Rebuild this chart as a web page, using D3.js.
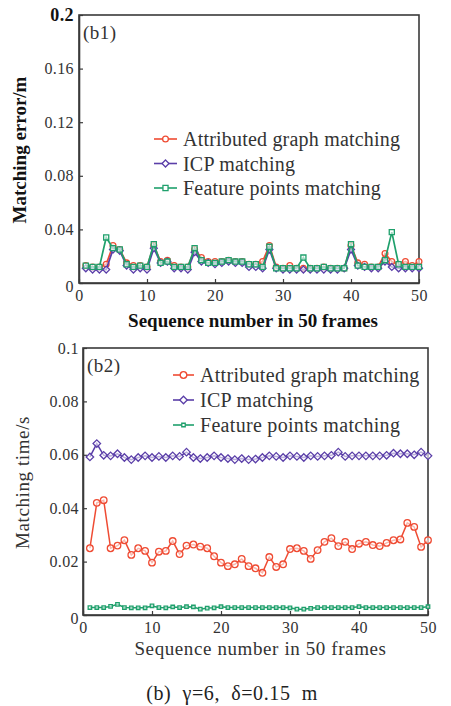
<!doctype html>
<html lang="en">
<head>
<meta charset="utf-8">
<script src="https://d3js.org/d3.v7.min.js"></script>
<style>
  body { margin: 0; background: #fff; }
  svg text { font-family: "Liberation Serif", "Times New Roman", serif; }
</style>
</head>
<body>
<div id="chart"></div>
<script>
// frame numbers 1..50
var frames = d3.range(1, 51);

// (b1) matching error / m
var errAttr = [0.013,0.012,0.012,0.014,0.028,0.025,0.015,0.013,0.013,0.012,
               0.028,0.016,0.017,0.013,0.012,0.012,0.025,0.019,0.016,0.016,
               0.016,0.017,0.016,0.016,0.014,0.014,0.016,0.028,0.012,0.011,
               0.013,0.011,0.011,0.011,0.011,0.012,0.011,0.011,0.011,0.028,
               0.015,0.014,0.012,0.012,0.022,0.016,0.014,0.016,0.013,0.016];
var errIcp  = [0.011,0.010,0.010,0.010,0.025,0.024,0.013,0.010,0.011,0.010,
               0.026,0.015,0.016,0.011,0.011,0.010,0.023,0.016,0.015,0.014,
               0.015,0.016,0.015,0.015,0.012,0.012,0.011,0.025,0.011,0.010,
               0.010,0.010,0.010,0.010,0.010,0.010,0.010,0.010,0.011,0.025,
               0.013,0.012,0.011,0.011,0.016,0.012,0.011,0.011,0.011,0.011];
var errFeat = [0.013,0.012,0.012,0.034,0.026,0.025,0.014,0.012,0.013,0.012,
               0.029,0.015,0.016,0.012,0.012,0.012,0.026,0.017,0.015,0.015,
               0.016,0.017,0.016,0.016,0.014,0.014,0.012,0.027,0.011,0.011,
               0.011,0.011,0.019,0.011,0.011,0.012,0.011,0.011,0.011,0.029,
               0.013,0.012,0.012,0.012,0.017,0.038,0.014,0.012,0.012,0.012];

// (b2) matching time / s
var timeAttr = [0.025,0.042,0.043,0.025,0.026,0.028,0.0225,0.025,0.024,0.0196,
                0.0237,0.024,0.0277,0.0228,0.026,0.0264,0.0256,0.025,0.022,0.0196,
                0.0183,0.019,0.021,0.0183,0.0175,0.0158,0.0217,0.018,0.019,0.0247,
                0.025,0.024,0.021,0.0243,0.0274,0.0288,0.0258,0.0274,0.0247,0.0267,
                0.0274,0.0262,0.0258,0.027,0.028,0.0283,0.0345,0.033,0.0255,0.028];
var timeIcp  = [0.0592,0.0642,0.0598,0.0596,0.0604,0.059,0.0582,0.059,0.0596,0.059,
                0.0594,0.059,0.0596,0.0594,0.061,0.059,0.0586,0.059,0.0596,0.059,
                0.0586,0.0582,0.0586,0.0582,0.0584,0.059,0.0596,0.0594,0.059,0.0596,
                0.0594,0.059,0.0596,0.0594,0.0596,0.0598,0.061,0.0594,0.0596,0.0596,
                0.0596,0.0596,0.0596,0.0598,0.0606,0.0604,0.0604,0.0600,0.061,0.0596];
var timeFeat = [0.0028,0.0028,0.0028,0.0032,0.0040,0.0028,0.0027,0.0027,0.0027,0.0034,
                0.0028,0.0027,0.0030,0.0028,0.0031,0.0030,0.0022,0.0026,0.0027,0.0031,
                0.0028,0.0028,0.0028,0.0028,0.0028,0.0028,0.0028,0.0028,0.0028,0.0027,
                0.0022,0.0022,0.0025,0.0028,0.0028,0.0028,0.0028,0.0028,0.0028,0.0031,
                0.0028,0.0028,0.0028,0.0028,0.0028,0.0028,0.0028,0.0028,0.0028,0.0031];

var legendNames = ["Attributed graph matching", "ICP matching", "Feature points matching"];
var xTicks = [0, 10, 20, 30, 40, 50];
var errTicks = [0, 0.04, 0.08, 0.12, 0.16, 0.2];
var timeTicks = [0, 0.02, 0.04, 0.06, 0.08, 0.1];

var colors = ["#ef4b33", "#5a3ea8", "#1fa06c"];

// square diamond (same width and height)
var diamond = {
  draw: function(ctx, size) {
    var a = Math.sqrt(size / 2);
    ctx.moveTo(0, -a); ctx.lineTo(a, 0); ctx.lineTo(0, a); ctx.lineTo(-a, 0); ctx.closePath();
  }
};
var symbolTypes = [d3.symbolCircle, diamond, d3.symbolSquare];

var svg = d3.select("#chart").append("svg")
    .attr("width", 451).attr("height", 706);

function drawPanel(cfg) {
  var x = d3.scaleLinear().domain([0, 50]).range([cfg.left, cfg.right]);
  var y = d3.scaleLinear().domain(cfg.ydomain).range([cfg.bottom, cfg.top]);
  var g = svg.append("g");

  // frame
  g.append("rect")
    .attr("x", cfg.left).attr("y", cfg.top)
    .attr("width", cfg.right - cfg.left).attr("height", cfg.bottom - cfg.top)
    .attr("fill", "none").attr("stroke", "#3a3a3a").attr("stroke-width", 1.6);

  var xa = g.append("g").attr("transform", "translate(0," + cfg.bottom + ")")
    .call(d3.axisBottom(x).tickValues(xTicks).tickFormat(d3.format("d"))
      .tickSizeInner(-4).tickSizeOuter(0).tickPadding(7));
  var ya = g.append("g").attr("transform", "translate(" + cfg.left + ",0)")
    .call(d3.axisLeft(y).tickValues(cfg.yticks).tickFormat(function(d) { return d === 0 ? "0" : String(+d.toFixed(2)); })
      .tickSizeInner(-4).tickSizeOuter(0).tickPadding(cfg.ypad));
  [xa, ya].forEach(function(a) {
    a.select(".domain").attr("stroke", "#3a3a3a").attr("stroke-width", 1.6);
    a.selectAll(".tick line").attr("stroke", "#3a3a3a").attr("stroke-width", 1.2);
    a.selectAll(".tick text").attr("font-size", 16).attr("fill", "#333")
      .style("font-family", "'Liberation Serif', serif").style("letter-spacing", "0.4px");
  });
  if (cfg.boldTop) {
    ya.selectAll(".tick text").filter(function(d) { return d === 0.2; })
      .attr("font-size", 18).attr("font-weight", "bold").attr("fill", "#111");
  }
  ya.selectAll(".tick text").filter(function(d) { return d === 0; }).attr("dy", "0.55em");

  // series
  cfg.series.forEach(function(vals, i) {
    var pts = frames.map(function(f, j) { return [f, vals[j]]; });
    var line = d3.line().x(function(d) { return x(d[0]); }).y(function(d) { return y(d[1]); });
    g.append("path").datum(pts).attr("d", line)
      .attr("fill", "none").attr("stroke", colors[i]).attr("stroke-width", cfg.lw);
    g.append("g").selectAll("path").data(pts).enter().append("path")
      .attr("transform", function(d) { return "translate(" + x(d[0]) + "," + y(d[1]) + ")"; })
      .attr("d", d3.symbol().type(symbolTypes[i]).size(cfg.msize[i]))
      .attr("fill", "#fff").attr("fill-opacity", 0.6).attr("stroke", colors[i]).attr("stroke-width", 1.3);
  });

  // legend
  var lg = g.append("g");
  legendNames.forEach(function(name, i) {
    var ly = cfg.legY + i * cfg.legDy;
    lg.append("line").attr("x1", cfg.legX).attr("x2", cfg.legX + cfg.legW)
      .attr("y1", ly).attr("y2", ly).attr("stroke", colors[i]).attr("stroke-width", 1.6);
    lg.append("path").attr("transform", "translate(" + (cfg.legX + cfg.legW / 2) + "," + ly + ")")
      .attr("d", d3.symbol().type(symbolTypes[i]).size(cfg.msize[i]))
      .attr("fill", "#fff").attr("stroke", colors[i]).attr("stroke-width", 1.3);
    lg.append("text").attr("x", cfg.legX + cfg.legW + 6).attr("y", ly).attr("dy", "0.35em")
      .attr("font-size", 20).attr("fill", "#333").style("letter-spacing", cfg.legLs).text(name);
  });

  // panel label
  g.append("text").attr("x", cfg.left + 4).attr("y", cfg.top + 17)
    .attr("dy", "0.35em").attr("font-size", 19).attr("fill", "#333")
    .style("letter-spacing", "0.5px").text(cfg.label);

  // axis titles
  g.append("text").attr("x", (cfg.left + cfg.right) / 2 + cfg.xtOff).attr("y", cfg.bottom + cfg.xtDy)
    .attr("text-anchor", "middle").attr("font-size", 19)
    .attr("font-weight", cfg.bold ? "bold" : "normal").attr("fill", cfg.bold ? "#111" : "#333")
    .style("letter-spacing", cfg.bold ? "0px" : "0.6px")
    .text("Sequence number in 50 frames");
  g.append("text")
    .attr("transform", "translate(" + cfg.ytX + "," + ((cfg.top + cfg.bottom) / 2 + cfg.ytOff) + ") rotate(-90)")
    .attr("text-anchor", "middle").attr("font-size", 19)
    .attr("font-weight", cfg.bold ? "bold" : "normal").attr("fill", cfg.bold ? "#111" : "#333")
    .style("letter-spacing", cfg.bold ? "0px" : "0.6px")
    .text(cfg.ytitle);
}

drawPanel({
  left: 79, right: 419, top: 15, bottom: 283,
  ydomain: [0, 0.2], yticks: errTicks, ypad: 5, boldTop: true,
  series: [errAttr, errIcp, errFeat], msize: [26, 24, 26], lw: 1.7,
  legX: 154, legW: 23, legY: 139, legDy: 24.5, legLs: "0.2px",
  label: "(b1)", bold: true,
  xtOff: 4, xtDy: 44, ytX: 26, ytOff: 1, ytitle: "Matching error/m"
});

drawPanel({
  left: 83, right: 428, top: 348, bottom: 615,
  ydomain: [0, 0.1], yticks: timeTicks, ypad: 4, boldTop: false,
  series: [timeAttr, timeIcp, timeFeat], msize: [34, 28, 12], lw: 1.5,
  legX: 173, legW: 21, legY: 375, legDy: 25, legLs: "0.3px",
  label: "(b2)", bold: false,
  xtOff: 5, xtDy: 40, ytX: 29, ytOff: 1, ytitle: "Matching time/s"
});

svg.append("text").attr("x", 232).attr("y", 693).attr("dy", "0.35em")
  .attr("text-anchor", "middle").attr("font-size", 20).attr("fill", "#222")
  .style("white-space", "pre").style("letter-spacing", "0.6px")
  .text("(b)  \u03b3=6,  \u03b4=0.15  m");
</script>
</body>
</html>
